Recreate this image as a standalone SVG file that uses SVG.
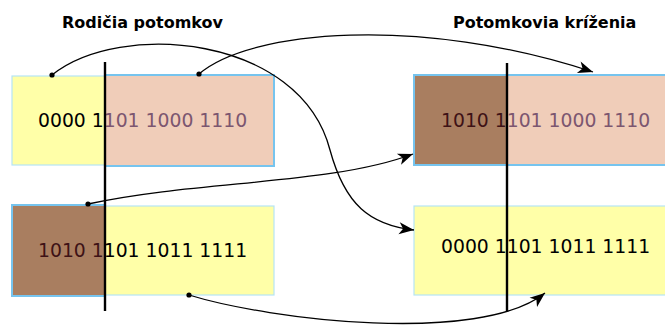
<svg xmlns="http://www.w3.org/2000/svg" width="665" height="329" viewBox="0 0 665 329">
  <style>
    .title { font-family: "DejaVu Sans", sans-serif; font-weight: bold; font-size: 16px; fill: #000; }
    .bits { font-family: "DejaVu Sans", sans-serif; font-size: 18.8px; fill: #000; }
    .yellow { fill: #ffffa8; stroke: #b6e4f5; stroke-width: 1.2; }
    .salmon { fill: #f0cdb9; stroke: #76c4ee; stroke-width: 2; }
    .brown { fill: #a97e60; stroke: #76c4ee; stroke-width: 2; }
    .onSalmon { fill: #7c5670; }
    .onBrown { fill: #3e1216; }
    .cut { stroke: #000; stroke-width: 2.4; fill: none; }
    .link { stroke: #000; stroke-width: 1.3; fill: none; marker-end: url(#head); }
    .dot { fill: #000; }
  </style>
  <defs>
    <marker id="head" markerUnits="userSpaceOnUse" orient="auto" markerWidth="20" markerHeight="14" refX="16" refY="7" viewBox="0 0 20 14">
      <path d="M16,7 L1,1 L5,7 L1,13 Z" fill="#000"/>
    </marker>
  </defs>

  <text class="title" x="62" y="28">Rodičia potomkov</text>
  <text class="title" x="453" y="28">Potomkovia kríženia</text>

  <!-- parent 1 -->
  <g id="parent1">
    <rect class="yellow" x="12" y="76" width="93" height="89"/>
    <rect class="salmon" x="105" y="75" width="169" height="91"/>
    <text class="bits" x="38" y="127"><tspan>0000 1</tspan><tspan class="onSalmon">101 1000 1110</tspan></text>
    <line class="cut" x1="105" y1="62" x2="105" y2="196"/>
  </g>

  <!-- parent 2 -->
  <g id="parent2">
    <rect class="yellow" x="105" y="206" width="169" height="89"/>
    <rect class="brown" x="12" y="205" width="93" height="91"/>
    <text class="bits" x="38" y="257"><tspan class="onBrown">1010 1</tspan><tspan>101 1011 1111</tspan></text>
    <line class="cut" x1="105" y1="196" x2="105" y2="311"/>
  </g>

  <!-- offspring 1 -->
  <g id="child1">
    <rect class="salmon" x="414" y="75" width="260" height="90"/>
    <rect x="414" y="75" width="93" height="90" fill="#a97e60"/>
    <rect x="414" y="75" width="260" height="90" fill="none" stroke="#76c4ee" stroke-width="2"/>
    <text class="bits" x="441" y="127"><tspan class="onBrown">1010 1</tspan><tspan class="onSalmon">101 1000 1110</tspan></text>
    <line class="cut" x1="507" y1="63" x2="507" y2="196"/>
  </g>

  <!-- offspring 2 -->
  <g id="child2">
    <rect class="yellow" x="414" y="206" width="260" height="89"/>
    <text class="bits" x="441" y="253">0000 1101 1011 1111</text>
    <line class="cut" x1="507" y1="196" x2="507" y2="311"/>
  </g>

  <!-- crossover connectors -->
  <g id="connectors">
    <path class="link" d="M52,75 C120,20 300,35 330,150 C345,205 370,225 414,230"/>
    <path class="link" d="M199,74 C250,30 420,15 593,72"/>
    <path class="link" d="M88,204 C200,180 330,185 413,154"/>
    <path class="link" d="M189,295 C270,320 480,345 545,293"/>
    <circle class="dot" cx="52" cy="75" r="2.6"/>
    <circle class="dot" cx="199" cy="74" r="2.6"/>
    <circle class="dot" cx="88" cy="204" r="2.6"/>
    <circle class="dot" cx="189" cy="295" r="2.6"/>
  </g>
</svg>
